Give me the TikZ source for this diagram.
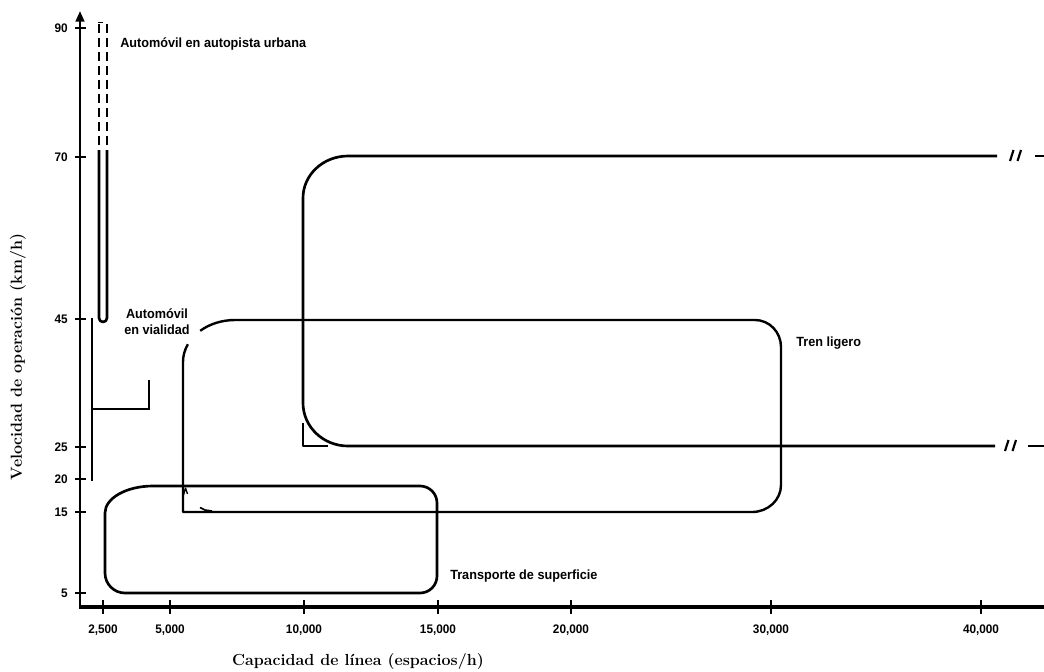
\documentclass[tikz,border=0pt]{standalone}
\usepackage{fontspec}
\newfontfamily\labelfont[FakeStretch=0.95]{Liberation Sans}
\usetikzlibrary{arrows.meta}

\begin{document}
\begin{tikzpicture}[x=0.75pt, y=-0.75pt, line join=round,
  box/.style={line width=2pt},
  thinbox/.style={line width=1.8pt},
  tick/.style={line width=1.3pt},
  ticklabel/.style={inner sep=0pt, font=\labelfont\bfseries\fontsize{9.3}{11}\selectfont},
  tag/.style={inner sep=0pt, font=\labelfont\bfseries\fontsize{10}{12}\selectfont},
  axistitle/.style={inner sep=0pt, font=\rmfamily\bfseries\fontsize{12}{14}\selectfont}]
\useasboundingbox (0,0) rectangle (1044,671);

% axes
\draw[line width=1.8pt, -{Triangle[length=8pt,width=6.5pt]}] (80,607) -- (80,11);
\draw[line width=2.8pt] (79,607) -- (1046,607);

% speed ticks
\foreach \y/\v in {28/90, 157/70, 319/45, 447/25, 479/20, 512/15, 593/5} {
  \draw[tick] (75,\y) -- (86,\y);
  \node[ticklabel, anchor=east] (v\v) at (68,\y) {\v};
}

% capacity ticks
\foreach \x/\n/\lab in {103/a/{2,500}, 170/b/{5,000}, 304/c/{10,000}, 438/d/{15,000},
                        571/e/{20,000}, 771/f/{30,000}, 981/g/{40,000}} {
  \draw[tick] (\x,600) -- (\x,614);
  \node[ticklabel] (c\n) at (\x,630) {\lab};
}

% axis titles
\node[axistitle] (xtitle) at (358,661) {Capacidad de línea (espacios/h)};
\node[axistitle, rotate=90] (ytitle) at (18,357) {Velocidad de operación (km/h)};

% urban freeway: dashed twin lines above, narrow closed band below
\draw[box, dash pattern=on 7pt off 3.5pt] (99,24) -- (99,150);
\draw[box, dash pattern=on 7pt off 3.5pt] (107,24) -- (107,150);
\draw[line width=1.3pt] (98,22.5) -- (102.5,22.5);
\draw[box] (99,150) -- (99,318) arc[start angle=180, end angle=0, radius=4] -- (107,150);

% street traffic bracket
\draw[box] (92,318) -- (92,481);
\draw[line width=1.2pt] (92,409) -- (149,409);
\draw[line width=1.6pt] (149,409.5) -- (149,380);

% large band (25-70 km/h), broken on the right
\draw[box] (997,156) -- (348,156) arc[start angle=270, end angle=180, x radius=45, y radius=42]
  -- (303,403) arc[start angle=180, end angle=90, x radius=45, y radius=43] -- (995,446);
\draw[box] (1035,156) -- (1046,156);
\draw[box] (1028,446) -- (1046,446);
\draw[line width=1.6pt] (1010,161) -- (1013.5,150) (1017.5,161) -- (1021,150);
\draw[line width=1.6pt] (1005,451) -- (1008.5,440) (1012.5,451) -- (1016,440);
\draw[line width=1.5pt] (303,423) -- (303,446) -- (328,446);

% middle band (15-45 km/h)
\draw[thinbox] (235,320) -- (755,320) arc[start angle=270, end angle=360, x radius=26, y radius=27]
  -- (781,485) arc[start angle=0, end angle=90, x radius=29, y radius=27]
  -- (183,512) -- (183,362) arc[start angle=180, end angle=205, x radius=52, y radius=42];
\draw[thinbox] (235,320) arc[start angle=270, end angle=228, x radius=52, y radius=42];
\draw[line width=1pt] (183.5,495) -- (185.5,488) -- (187.5,494);
\draw[line width=1.2pt] (200,507.5) -- (205,510) -- (212,511);

% surface transport band (5-20 km/h)
\draw[box] (153,486) -- (420,486) arc[start angle=270, end angle=360, radius=17]
  -- (437,576) arc[start angle=0, end angle=90, radius=17]
  -- (125,593) arc[start angle=90, end angle=180, radius=20]
  -- (105,513) arc[start angle=180, end angle=270, x radius=48, y radius=27] -- cycle;

% band labels
\node[tag, anchor=west] (freeway) at (120,44) {Automóvil en autopista urbana};
\node[tag, align=center] (street) at (157,322) {Automóvil\\en vialidad};
\node[tag, anchor=west] (lrt) at (796,343) {Tren ligero};
\node[tag, anchor=west] (surface) at (450,576) {Transporte de superficie};
\end{tikzpicture}
\end{document}
